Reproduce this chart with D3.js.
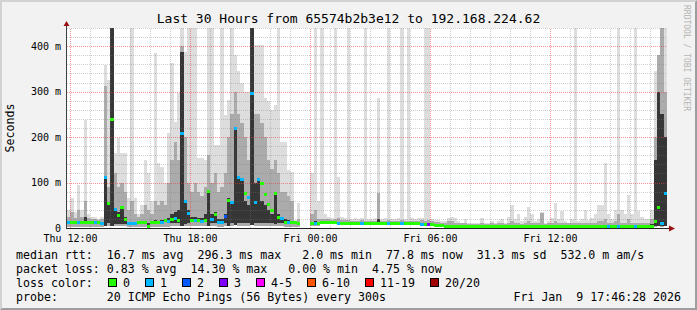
<!DOCTYPE html>
<html>
<head>
<meta charset="utf-8">
<script src="https://cdn.jsdelivr.net/npm/d3@7/dist/d3.min.js"></script>
<style>
  body { margin: 0; background: #f2f2f2; }
  svg { display: block; }
  text { font-family: "DejaVu Sans Mono", monospace; fill: #000; }
</style>
</head>
<body>
<div id="chart"></div>
<script>
// 30 hours of 10 minute bins, Thu 11:51 -> Fri 17:51 (UTC)
const startTime = Date.UTC(2026, 0, 8, 11, 51);
const stepMs = 10 * 60 * 1000;
const binCount = 180;

// median rtt per bin, ms (null = no data)
const medianMs = [
  13, 14, 14, 13, 14, 14, 14, 14, 13, 13,
  12, 113, 55, 240, 42, 29, 46, 20, 12, 12,
  12, 14, 14, 14, 5, 13, 14, 14, 13, 17,
  15, 20, 22, 17, 209, 60, 34, 17, 17, 17,
  15, 17, 81, 20, 31, 13, 13, 27, 61, 58,
  220, 112, 107, 77, 68, 296, 57, 107, 99, 75,
  53, 40, 77, 24, 22, 13, 13, 13, 13, 12,
  null, null, null, 12, 12, 12, 13, 13, 13, 13,
  13, 12, 12, 12, 11, 10, 10, 10, 10, 10,
  10, 10, 10, 11, 10, 10, 10, 10, 10, 10,
  10, 10, 10, 10, 10, 10, 9, 9, 8, 8,
  7, 7, 6, 5, 4, 4, 4, 4, 4, 4,
  4, 4, 4, 4, 4, 4, 4, 4, 4, 4,
  4, 4, 4, 4, 4, 4, 4, 4, 4, 4,
  4, 4, 4, 4, 4, 4, 4, 4, 4, 4,
  4, 4, 4, 4, 4, 4, 4, 4, 4, 4,
  4, 4, 4, 4, 4, 4, 4, 4, 4, 4,
  4, 4, 4, 4, 4, 5, 15, 46, 12, 77.8
];

// lost pings out of 20 per bin
const lossCount = [
  1, 0, 0, 1, 0, 0, 0, 0, 1, 0,
  1, 1, 0, 0, 1, 0, 0, 0, 1, 1,
  1, 0, 0, 0, 0, 0, 0, 0, 1, 0,
  1, 0, 1, 0, 1, 1, 1, 0, 1, 0,
  1, 0, 0, 1, 0, 1, 1, 2, 0, 1,
  1, 1, 1, 0, 1, 1, 1, 1, 0, 0,
  0, 0, 0, 0, 1, 0, 1, 0, 0, 0,
  0, 0, 0, 0, 1, 0, 0, 0, 0, 0,
  0, 1, 0, 0, 0, 0, 0, 0, 1, 0,
  0, 0, 0, 0, 0, 0, 1, 0, 0, 0,
  1, 0, 0, 0, 0, 0, 1, 0, 3, 0,
  0, 0, 0, 0, 0, 0, 0, 0, 0, 0,
  0, 0, 0, 0, 0, 0, 0, 0, 0, 0,
  0, 0, 0, 0, 0, 0, 0, 0, 0, 0,
  0, 0, 0, 0, 0, 0, 0, 0, 0, 0,
  0, 0, 0, 0, 0, 0, 0, 0, 0, 0,
  0, 0, 1, 0, 0, 1, 0, 0, 0, 0,
  1, 0, 0, 0, 0, 0, 0, 0, 1, 1
];

// smoke: fastest ping per bin, ms
const minMs = [
  3, 3, 3, 3, 3, 3, 3, 3, 3, 3,
  3, 4, 4, 5, 4, 4, 4, 4, 3, 3,
  3, 3, 3, 3, 2, 3, 3, 3, 3, 3,
  3, 4, 4, 4, 5, 4, 4, 4, 4, 4,
  4, 4, 5, 4, 4, 3, 3, 4, 5, 5,
  6, 5, 5, 5, 5, 6, 5, 5, 5, 5,
  5, 4, 5, 4, 4, 3, 3, 3, 3, 3,
  null, null, null, 4, 4, 4, 10, 10, 10, 10,
  10, 9, 9, 9, 8, 7, 7, 7, 7, 7,
  7, 7, 7, 8, 7, 7, 7, 7, 7, 7,
  7, 7, 7, 7, 7, 7, 6, 6, 5, 5,
  4, 4, 3, 3, 2, 2, 2, 2, 2, 2,
  2, 2, 2, 2, 2, 2, 2, 2, 2, 2,
  2, 2, 2, 2, 2, 2, 2, 2, 2, 2,
  2, 2, 2, 2, 2, 2, 2, 2, 2, 2,
  2, 2, 2, 2, 2, 2, 2, 2, 2, 2,
  2, 2, 2, 2, 2, 2, 2, 2, 2, 2,
  2, 2, 2, 2, 2, 2, 3, 4, 3, 5
];

// smoke: dense core of the pings (low / high), ms
const darkLo = [
  12, 13, 13, 12, 13, 10, 13, 13, 12, 12,
  11, 4, 10, 5, 8, 8, 8, 8, 11, 11,
  11, 13, 13, 12, 4, 12, 12, 12, 12, 14,
  12, 12, 12, 12, 5, 8, 10, 14, 14, 14,
  13, 14, 5, 10, 10, 12, 12, 12, 5, 10,
  6, 10, 10, 12, 12, 6, 10, 10, 12, 12,
  12, 12, 8, 12, 12, 12, 12, 12, 12, 11,
  null, null, null, 11, 11, 11, 12, 12, 12, 12,
  12, 11, 11, 11, 10, 9, 9, 9, 9, 9,
  9, 9, 9, 10, 9, 9, 9, 9, 9, 9,
  9, 9, 9, 9, 9, 9, 8, 8, 7, 7,
  6, 6, 5, 4, 3, 3, 3, 3, 3, 3,
  3, 3, 3, 3, 3, 3, 3, 3, 3, 3,
  3, 3, 3, 3, 3, 3, 3, 3, 3, 3,
  3, 3, 3, 3, 3, 3, 3, 3, 3, 3,
  3, 3, 3, 3, 3, 3, 3, 3, 3, 3,
  3, 3, 3, 3, 3, 3, 3, 3, 3, 3,
  3, 3, 3, 3, 3, 3, 5, 5, 5, 5
];
const darkHi = [
  15, 16, 15, 16, 15, 25, 15, 15, 14, 14,
  13, 113, 55, 440, 45, 35, 48, 25, 14, 14,
  14, 15, 15, 16, 10, 15, 18, 16, 18, 20,
  22, 30, 35, 40, 387, 60, 40, 25, 25, 22,
  22, 30, 83, 30, 35, 20, 20, 30, 66, 60,
  220, 114, 110, 60, 50, 440, 100, 110, 60, 50,
  40, 30, 80, 30, 25, 20, 18, 16, 14, 14,
  null, null, null, 14, 15, 14, 14, 14, 14, 14,
  14, 13, 13, 13, 12, 11, 11, 11, 11, 11,
  11, 11, 11, 20, 11, 11, 11, 11, 11, 11,
  11, 11, 11, 11, 11, 11, 10, 10, 9, 9,
  8, 8, 7, 6, 5, 5, 5, 5, 5, 5,
  5, 5, 5, 5, 5, 5, 5, 5, 5, 5,
  5, 5, 5, 5, 5, 5, 5, 5, 5, 5,
  5, 5, 5, 5, 5, 5, 5, 5, 5, 5,
  5, 5, 5, 5, 5, 5, 5, 5, 5, 5,
  5, 5, 5, 5, 5, 5, 5, 5, 5, 5,
  5, 5, 5, 5, 5, 8, 150, 300, 250, 200
];

// smoke: upper spread of most pings, ms
const midHi = [
  25, 35, 22, 40, 25, 60, 22, 20, 20, 18,
  20, 312, 90, 440, 120, 90, 100, 80, 40, 60,
  30, 25, 30, 50, 40, 30, 60, 50, 60, 50,
  100, 150, 190, 150, 400, 200, 100, 80, 100, 80,
  70, 90, 160, 100, 120, 80, 90, 120, 200, 250,
  300, 250, 230, 200, 150, 440, 250, 250, 230, 200,
  150, 130, 150, 120, 80, 80, 70, 60, 15, 20,
  null, null, null, 30, 40, 20, 20, 20, 20, 18,
  20, 22, 18, 18, 18, 16, 16, 16, 18, 16,
  16, 16, 16, 77, 16, 16, 18, 16, 16, 16,
  18, 16, 16, 16, 16, 16, 18, 16, 18, 15,
  14, 14, 12, 12, 15, 15, 12, 10, 10, 12,
  8, 8, 8, 8, 12, 8, 8, 10, 8, 10,
  10, 8, 12, 15, 10, 12, 8, 12, 15, 12,
  10, 10, 33, 8, 10, 12, 15, 10, 12, 10,
  10, 10, 12, 10, 10, 12, 10, 10, 12, 15,
  15, 20, 12, 10, 15, 30, 12, 10, 20, 12,
  12, 12, 10, 10, 10, 20, 200, 380, 440, 300
];

// smoke: slowest ping per bin, ms
const maxMs = [
  40, 66, 35, 95, 40, 237, 30, 25, 25, 20,
  25, 358, 325, 440, 165, 197, 165, 165, 65, 440,
  65, 30, 50, 150, 120, 60, 386, 143, 134, 100,
  209, 362, 233, 297, 440, 387, 440, 440, 440, 154,
  154, 150, 440, 440, 182, 182, 440, 248, 281, 440,
  380, 345, 320, 300, 300, 440, 402, 402, 402, 286,
  280, 260, 270, 440, 190, 190, 127, 123, 18, 55,
  null, null, null, 121, 440, 60, 440, 30, 25, 22,
  440, 112, 25, 22, 440, 20, 22, 20, 22, 440,
  20, 20, 22, 286, 20, 22, 440, 20, 20, 22,
  440, 20, 440, 22, 20, 22, 22, 440, 440, 20,
  18, 18, 15, 15, 22, 25, 22, 15, 12, 20,
  10, 12, 10, 12, 22, 10, 12, 15, 10, 15,
  20, 12, 25, 50, 20, 30, 15, 25, 47, 30,
  15, 20, 35, 12, 15, 22, 55, 20, 37, 15,
  12, 20, 440, 15, 20, 40, 18, 22, 30, 50,
  50, 143, 30, 20, 40, 440, 40, 30, 72, 30,
  440, 37, 25, 20, 20, 40, 345, 380, 440, 440
];

const yTickValues = [0, 100, 200, 300, 400];
const yTickLabels = ["0", "100 m", "200 m", "300 m", "400 m"];
const xTickTimes = [
  Date.UTC(2026, 0, 8, 12), Date.UTC(2026, 0, 8, 18), Date.UTC(2026, 0, 9, 0),
  Date.UTC(2026, 0, 9, 6), Date.UTC(2026, 0, 9, 12)
];
const xTickLabels = ["Thu 12:00", "Thu 18:00", "Fri 00:00", "Fri 06:00", "Fri 12:00"];

const lossLabels = ["0", "1", "2", "3", "4-5", "6-10", "11-19", "20/20"];
const lossLimits = [0, 1, 2, 3, 5, 10, 19, 20];
const lossColors = ["#26ff00", "#00b8ff", "#0059ff", "#7e00ff", "#ff00ff", "#ff5500", "#ff0000", "#a10000"];

const titleText = "Last 30 Hours from 65574b2b3e12 to 192.168.224.62";
const legendLines = [
  "median rtt:  16.7 ms avg  296.3 ms max   2.0 ms min  77.8 ms now  31.3 ms sd  532.0 m am/s",
  "packet loss: 0.83 % avg  14.30 % max   0.00 % min  4.75 % now"
];
const probeText = "probe:       20 ICMP Echo Pings (56 Bytes) every 300s";
const stampText = "Fri Jan  9 17:46:28 2026";

const W = 697, H = 310;
const margin = { top: 28, right: 30, bottom: 82, left: 67 };
const plotW = W - margin.left - margin.right,
  plotH = H - margin.top - margin.bottom;

// keep runs of spaces in svg text
const pre = s => s.replace(/ /g, "\u00a0");

const svg = d3.select("#chart")
  .append("svg")
  .attr("width", W)
  .attr("height", H);

// background with 3D frame
svg.append("rect").attr("width", W).attr("height", H).attr("fill", "#f2f2f2");
svg.append("path")
  .attr("d", `M0,0H${W}L${W - 2},2H2V${H - 2}L0,${H}Z`)
  .attr("fill", "#d2d2d2");
svg.append("path")
  .attr("d", `M${W},0V${H}H0L2,${H - 2}H${W - 2}V2Z`)
  .attr("fill", "#9e9e9e");

const x = d3.scaleUtc()
  .domain([new Date(startTime), new Date(startTime + binCount * stepMs)])
  .range([margin.left, margin.left + plotW]);
const y = d3.scaleLinear()
  .domain([0, 440])
  .range([margin.top + plotH, margin.top]);

svg.append("rect")
  .attr("x", x.range()[0]).attr("y", y.range()[1])
  .attr("width", plotW).attr("height", plotH)
  .attr("fill", "#fff");

svg.append("clipPath").attr("id", "plot-clip")
  .append("rect")
  .attr("x", x.range()[0]).attr("y", y.range()[1])
  .attr("width", plotW).attr("height", plotH);

const bins = d3.range(binCount).map(i => ({
  t0: new Date(startTime + i * stepMs),
  t1: new Date(startTime + (i + 1) * stepMs),
  med: medianMs[i], loss: lossCount[i],
  lo: minMs[i], dlo: darkLo[i], dhi: darkHi[i], mid: midHi[i], top: maxMs[i]
})).filter(d => d.med !== null);

const lossColor = n => lossColors[lossLimits.findIndex(l => n <= l)];

// smoke bands
const bands = [
  { from: "lo", to: "top", color: "#dddddd" },
  { from: "lo", to: "mid", color: "#ababab" },
  { from: "dlo", to: "dhi", color: "#363636" }
];
const smoke = svg.append("g").attr("clip-path", "url(#plot-clip)").attr("shape-rendering", "crispEdges");
bands.forEach(b => {
  smoke.append("g").selectAll("rect")
    .data(bins)
    .enter().append("rect")
    .attr("x", d => Math.round(x(d.t0)))
    .attr("width", d => Math.round(x(d.t1)) - Math.round(x(d.t0)))
    .attr("y", d => y(Math.min(d[b.to], 440)))
    .attr("height", d => y(d[b.from]) - y(Math.min(d[b.to], 440)))
    .attr("fill", b.color);
});

// grid
const grid = svg.append("g").attr("fill", "none").attr("stroke-dasharray", "1,1");
const hours = d3.utcHour.every(1).range(x.domain()[0], x.domain()[1]);
grid.selectAll(".vgrid")
  .data(hours)
  .enter().append("line")
  .attr("x1", d => Math.round(x(d)) + 0.5).attr("x2", d => Math.round(x(d)) + 0.5)
  .attr("y1", y.range()[0]).attr("y2", y.range()[1])
  .attr("stroke", d => d.getUTCHours() % 6 === 0 ? "rgba(235,60,60,0.55)" : "rgba(120,120,120,0.35)");
grid.selectAll(".hgrid")
  .data(d3.range(20, 441, 20))
  .enter().append("line")
  .attr("x1", x.range()[0]).attr("x2", x.range()[1])
  .attr("y1", d => Math.round(y(d)) + 0.5).attr("y2", d => Math.round(y(d)) + 0.5)
  .attr("stroke", d => d % 100 === 0 ? "rgba(235,60,60,0.55)" : "rgba(120,120,120,0.35)");

// median, coloured by loss
svg.append("g").attr("shape-rendering", "crispEdges")
  .selectAll("rect")
  .data(bins)
  .enter().append("rect")
  .attr("x", d => Math.round(x(d.t0)))
  .attr("width", d => Math.round(x(d.t1)) - Math.round(x(d.t0)))
  .attr("y", d => Math.round(y(d.med)) - 1)
  .attr("height", 3)
  .attr("fill", d => lossColor(d.loss));

// axes
const yAxis = svg.append("g")
  .attr("transform", `translate(${x.range()[0]},0)`)
  .call(d3.axisLeft(y).tickValues(yTickValues).tickSize(0).tickPadding(6)
    .tickFormat((d, i) => yTickLabels[i]));
yAxis.select(".domain").remove();
yAxis.selectAll("text").attr("font-family", "DejaVu Sans Mono").attr("font-size", 10).attr("fill", "#000");

const xAxis = svg.append("g")
  .attr("transform", `translate(0,${y.range()[0]})`)
  .call(d3.axisBottom(x).tickValues(xTickTimes.map(t => new Date(t))).tickSize(0).tickPadding(7)
    .tickFormat((d, i) => xTickLabels[i]));
xAxis.select(".domain").remove();
xAxis.selectAll("text").attr("font-family", "DejaVu Sans Mono").attr("font-size", 10).attr("fill", "#000");

const x0 = x.range()[0], yb = y.range()[0];
svg.append("line")
  .attr("x1", x0 - 0.5).attr("x2", x0 - 0.5)
  .attr("y1", yb + 0.5).attr("y2", y.range()[1] - 2)
  .attr("stroke", "#404040");
svg.append("line")
  .attr("x1", x0 - 1).attr("x2", x.range()[1] + 3)
  .attr("y1", yb + 0.5).attr("y2", yb + 0.5)
  .attr("stroke", "#202020");
svg.append("path")
  .attr("d", `M${x0 - 0.5},${y.range()[1] - 7}L${x0 - 3.5},${y.range()[1] - 2}H${x0 + 2.5}Z`)
  .attr("fill", "#9b1010");
svg.append("path")
  .attr("d", `M${x.range()[1] + 8},${yb + 0.5}L${x.range()[1] + 2},${yb - 2.5}V${yb + 3.5}Z`)
  .attr("fill", "#9b1010");

// title, unit, watermark
svg.append("text")
  .attr("x", W / 2).attr("y", 23)
  .attr("text-anchor", "middle")
  .attr("font-size", 13)
  .text(titleText);
svg.append("text")
  .attr("transform", `translate(14,${(y.range()[0] + y.range()[1]) / 2}) rotate(-90)`)
  .attr("text-anchor", "middle")
  .attr("font-size", 11.6)
  .text("Seconds");
svg.append("text")
  .attr("transform", "translate(684,5) rotate(90)")
  .attr("font-size", 8)
  .style("fill", "#b4b4b4")
  .text("RRDTOOL / TOBI OETIKER");

// legend
const legend = svg.append("g").attr("font-size", 11.6);
legendLines.forEach((line, i) => {
  legend.append("text").attr("x", 16).attr("y", 258.5 + i * 14).text(pre(line));
});
legend.append("text").attr("x", 16).attr("y", 286.5).text("loss color:");
let lx = 108;
lossLabels.forEach((lab, i) => {
  legend.append("rect")
    .attr("x", lx + 0.5).attr("y", 278.5)
    .attr("width", 8).attr("height", 8)
    .attr("fill", lossColors[i]).attr("stroke", "#000");
  legend.append("text").attr("x", lx + 15).attr("y", 286.5).text(lab);
  lx += 15 + lab.length * 7 + 15;
});
legend.append("text").attr("x", 16).attr("y", 300.5).text(pre(probeText));
legend.append("text").attr("x", 681).attr("y", 300.5).attr("text-anchor", "end").text(pre(stampText));
</script>
</body>
</html>
